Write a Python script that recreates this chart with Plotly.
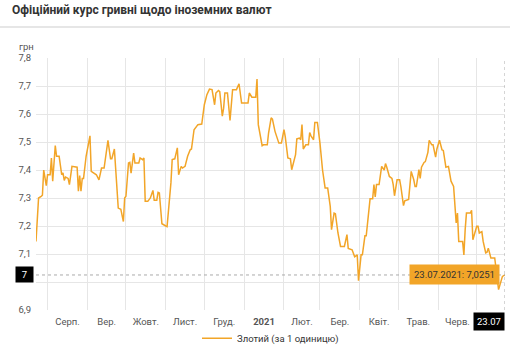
import plotly.graph_objects as go
import pandas as pd

TITLE = "Офіційний курс гривні щодо іноземних валют"
UNIT = "грн"
SERIES_NAME = "Злотий (за 1 одиницю)"

dates = [
"2020-07-23","2020-07-25","2020-07-27","2020-07-28","2020-07-29","2020-07-31","2020-08-01","2020-08-03","2020-08-04","2020-08-05",
"2020-08-07","2020-08-08","2020-08-10","2020-08-12","2020-08-13","2020-08-14","2020-08-15","2020-08-17","2020-08-18","2020-08-20",
"2020-08-24","2020-08-25","2020-08-26","2020-08-27","2020-08-28","2020-08-29","2020-08-31","2020-09-03","2020-09-04","2020-09-06",
"2020-09-08","2020-09-10","2020-09-12","2020-09-14","2020-09-16","2020-09-17","2020-09-19","2020-09-20","2020-09-22","2020-09-23",
"2020-09-25","2020-09-27","2020-09-29","2020-09-30","2020-10-01","2020-10-03","2020-10-04","2020-10-05","2020-10-07","2020-10-08",
"2020-10-11","2020-10-12","2020-10-14","2020-10-15","2020-10-16","2020-10-18","2020-10-20","2020-10-22","2020-10-23","2020-10-25",
"2020-10-26","2020-10-27","2020-10-29","2020-11-01","2020-11-02","2020-11-05","2020-11-06","2020-11-08","2020-11-10","2020-11-11",
"2020-11-13","2020-11-14","2020-11-16","2020-11-18","2020-11-20","2020-11-21","2020-11-23","2020-11-26","2020-11-28","2020-11-29",
"2020-12-01","2020-12-03","2020-12-05","2020-12-07","2020-12-09","2020-12-10","2020-12-12","2020-12-13","2020-12-15","2020-12-16",
"2020-12-17","2020-12-19","2020-12-21","2020-12-23","2020-12-26","2020-12-28","2020-12-30","2021-01-04","2021-01-05","2021-01-07",
"2021-01-10","2021-01-11","2021-01-12","2021-01-15","2021-01-16","2021-01-19","2021-01-20","2021-01-22","2021-01-23","2021-01-25",
"2021-01-28","2021-01-30","2021-02-01","2021-02-02","2021-02-04","2021-02-06","2021-02-07","2021-02-10","2021-02-11","2021-02-13",
"2021-02-14","2021-02-15","2021-02-16","2021-02-18","2021-02-20","2021-02-21","2021-02-22","2021-02-24","2021-02-25","2021-02-27",
"2021-03-01","2021-03-02","2021-03-03","2021-03-05","2021-03-07","2021-03-09","2021-03-10","2021-03-12","2021-03-13","2021-03-15",
"2021-03-17","2021-03-20","2021-03-22","2021-03-23","2021-03-26","2021-03-28","2021-03-30","2021-03-31","2021-04-02","2021-04-03",
"2021-04-05","2021-04-06","2021-04-08","2021-04-09","2021-04-11","2021-04-12","2021-04-13","2021-04-14","2021-04-16","2021-04-18",
"2021-04-20","2021-04-21","2021-04-22","2021-04-24","2021-04-26","2021-04-27","2021-04-28","2021-04-30","2021-05-02","2021-05-03",
"2021-05-05","2021-05-06","2021-05-09","2021-05-11","2021-05-13","2021-05-14","2021-05-15","2021-05-17","2021-05-18","2021-05-19",
"2021-05-21","2021-05-22","2021-05-24","2021-05-25","2021-05-27","2021-05-28","2021-05-30","2021-05-31","2021-06-02","2021-06-04",
"2021-06-05","2021-06-07","2021-06-09","2021-06-10","2021-06-11","2021-06-13","2021-06-14","2021-06-15","2021-06-16","2021-06-17",
"2021-06-20","2021-06-21","2021-06-22","2021-06-23","2021-06-26","2021-06-27","2021-06-28","2021-06-29","2021-07-01","2021-07-02",
"2021-07-03","2021-07-05","2021-07-06","2021-07-08","2021-07-09","2021-07-10","2021-07-12","2021-07-15","2021-07-18","2021-07-21",
"2021-07-23"]

values = [
7.145,7.30,7.306,7.31,7.40,7.344,7.383,7.383,7.443,7.36,
7.487,7.449,7.449,7.383,7.39,7.363,7.375,7.37,7.348,7.413,
7.41,7.324,7.38,7.324,7.37,7.37,7.449,7.522,7.395,7.39,
7.383,7.365,7.407,7.407,7.466,7.506,7.44,7.44,7.475,7.401,
7.264,7.26,7.216,7.30,7.306,7.425,7.427,7.389,7.46,7.425,
7.425,7.443,7.437,7.443,7.288,7.288,7.30,7.327,7.292,7.292,
7.32,7.318,7.208,7.20,7.198,7.354,7.437,7.44,7.479,7.383,
7.413,7.407,7.413,7.449,7.472,7.475,7.544,7.562,7.562,7.564,
7.633,7.669,7.689,7.687,7.633,7.675,7.684,7.68,7.592,7.62,
7.675,7.675,7.577,7.687,7.687,7.708,7.639,7.639,7.675,7.66,
7.66,7.725,7.562,7.487,7.49,7.49,7.532,7.586,7.582,7.538,
7.496,7.496,7.544,7.518,7.443,7.44,7.401,7.455,7.511,7.514,
7.508,7.562,7.475,7.49,7.49,7.534,7.522,7.508,7.57,7.57,
7.496,7.437,7.40,7.336,7.336,7.27,7.187,7.246,7.244,7.175,
7.127,7.127,7.169,7.12,7.115,7.09,7.097,7.005,7.097,7.097,
7.165,7.165,7.252,7.297,7.297,7.348,7.304,7.348,7.348,7.413,
7.40,7.423,7.41,7.377,7.37,7.348,7.308,7.365,7.365,7.34,
7.273,7.29,7.295,7.395,7.365,7.341,7.341,7.401,7.37,7.41,
7.427,7.43,7.463,7.506,7.49,7.49,7.446,7.475,7.506,7.472,
7.47,7.41,7.413,7.392,7.36,7.341,7.27,7.211,7.246,7.145,
7.145,7.097,7.187,7.246,7.246,7.256,7.151,7.165,7.199,7.199,
7.175,7.18,7.145,7.104,7.106,7.121,7.086,7.086,6.973,7.02,
7.0251]

month_starts = ["2020-08-01","2020-09-01","2020-10-01","2020-11-01","2020-12-01","2021-01-01",
                "2021-02-01","2021-03-01","2021-04-01","2021-05-01","2021-06-01","2021-07-01"]
month_labels = ["Серп.","Вер.","Жовт.","Лист.","Груд.","<b>2021</b>","Лют.","Бер.","Квіт.","Трав.","Черв."]

y_ticks = [6.9,7.0,7.1,7.2,7.3,7.4,7.5,7.6,7.7,7.8]
y_ticktext = ["6,9","","7,1","7,2","7,3","7,4","7,5","7,6","7,7","7,8"]

last_date = dates[-1]
last_value = values[-1]
last_label = "23.07.2021: 7,0251"
last_short = "23.07"
cross_label = "7"

ms = pd.to_datetime(month_starts)
mids = [ms[i] + (ms[i+1] - ms[i]) / 2 for i in range(len(month_labels))]

LINE = "#F2A528"
FONT = "Roboto"
TICKC = "#555555"
FS = 9.5

fig = go.Figure()
fig.add_trace(go.Scatter(x=dates, y=values, mode="lines", name=SERIES_NAME,
                         line=dict(color=LINE, width=1.5), showlegend=True))
fig.add_trace(go.Scatter(x=[dates[0], dates[-1]], y=[None, None], xaxis="x2",
                         showlegend=False, hoverinfo="skip"))

fig.update_layout(
    width=510, height=350,
    margin=dict(l=36, r=5, t=58, b=40, autoexpand=False),
    paper_bgcolor="white", plot_bgcolor="white",
    font=dict(family=FONT, size=FS, color=TICKC),
    separators=", ",
    showlegend=True,
    legend=dict(orientation="h", x=0.5, xanchor="center", y=-0.17, yanchor="bottom",
                bgcolor="rgba(0,0,0,0)", font=dict(size=FS, color="#333333")),
    xaxis=dict(type="date", range=[dates[0], dates[-1]], tickmode="array", tickvals=month_starts,
               showticklabels=False, showgrid=True, gridcolor="#e6e6e6", gridwidth=1,
               zeroline=False, showline=False, ticks="", automargin=False),
    xaxis2=dict(type="date", overlaying="x", matches="x", side="bottom", tickmode="array",
                tickvals=mids, ticktext=month_labels, showgrid=False, zeroline=False,
                ticks="", ticklen=0, automargin=False, ticklabelstandoff=4,
                tickfont=dict(size=FS, color=TICKC, family=FONT)),
    yaxis=dict(range=[6.9, 7.8], tickmode="array", tickvals=y_ticks, ticktext=y_ticktext,
               showgrid=True, gridcolor="#e6e6e6", gridwidth=1, zeroline=False, automargin=False,
               showline=False, ticks="", ticklabelstandoff=4, tickfont=dict(size=FS, color=TICKC)),
)

shapes = [
    dict(type="line", xref="paper", yref="paper", x0=-0.08, x1=1.02, y0=1.123, y1=1.123,
         line=dict(color="#e6e6e6", width=2)),
    dict(type="line", xref="paper", yref="y", x0=0, x1=1, y0=last_value, y1=last_value,
         line=dict(color="#aaaaaa", width=1, dash="dot")),
    dict(type="line", xref="x", yref="paper", x0=last_date, x1=last_date, y0=0, y1=1,
         line=dict(color="#aaaaaa", width=1, dash="dot")),
]
fig.update_layout(shapes=shapes)

annotations = [
    dict(text=TITLE, xref="paper", yref="paper", x=-0.055, y=1.19, xanchor="left", yanchor="middle",
         showarrow=False, font=dict(size=12, color="#333333", family=FONT, weight="bold")),
    dict(text=UNIT, xref="paper", yref="paper", x=-0.04, y=1.044, xanchor="left", yanchor="middle",
         showarrow=False, font=dict(size=FS, color=TICKC)),
    dict(text=last_label, xref="x", yref="y", x=last_date, y=last_value, xanchor="right", yanchor="middle",
         xshift=-5, showarrow=False, bgcolor=LINE, borderpad=4,
         font=dict(size=FS, color="#333333")),
    dict(text=last_short, xref="x", yref="paper", x=last_date, y=0, xanchor="right", yanchor="top",
         yshift=-2, showarrow=False, bgcolor="black", borderpad=3, font=dict(size=FS, color="white")),
    dict(text=cross_label, xref="paper", yref="y", x=-0.004, y=last_value, xanchor="right", yanchor="middle",
         showarrow=False, bgcolor="black", borderpad=2, width=13, font=dict(size=FS, color="white")),
]
fig.update_layout(annotations=annotations)

fig.write_html("out.html")
